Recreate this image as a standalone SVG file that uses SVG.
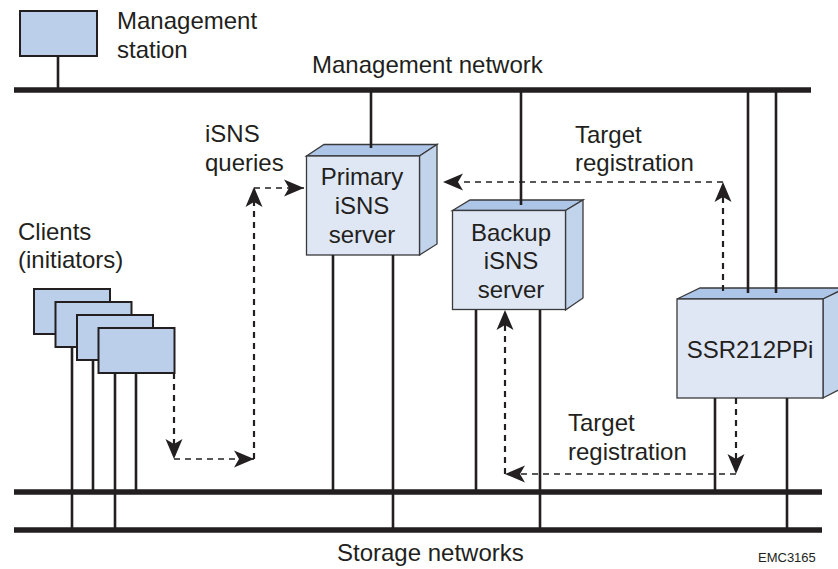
<svg xmlns="http://www.w3.org/2000/svg" width="838" height="569" viewBox="0 0 838 569">
<style>
text{font-family:"Liberation Sans",Arial,sans-serif;font-size:24px;fill:#231f20}
.m{text-anchor:middle}
.line{stroke:#231f20;stroke-width:2.6;fill:none}
.bus{stroke:#231f20;stroke-width:5.5;fill:none}
.dv{stroke:#231f20;stroke-width:2.2;fill:none;stroke-dasharray:6 5}
.dh{stroke:#231f20;stroke-width:1.6;fill:none;stroke-dasharray:6 5}
.pc{fill:#bbcfea;stroke:#231f20;stroke-width:2}
.front{fill:#dfe6f4;stroke:#3a3a3c;stroke-width:1.3}
.top{fill:#adc6e8;stroke:#3a3a3c;stroke-width:1.3}
.side{fill:#c2d3ec;stroke:#3a3a3c;stroke-width:1.3}
.head{fill:#231f20}
</style>
<defs>
<path id="ah" class="head" d="M0 0L-20 -8.500L-15 0L-20 8.500Z"/>
</defs>
<g id="management-station"><rect class="pc" x="20" y="11" width="77" height="45"/></g>
<g id="client-1"><rect class="pc" x="34" y="289" width="76" height="45"/></g>
<g id="client-2"><rect class="pc" x="55.500" y="302" width="76" height="45"/></g>
<g id="client-3"><rect class="pc" x="77" y="315" width="76" height="45"/></g>
<g id="client-4"><rect class="pc" x="98.500" y="328" width="76" height="45"/></g>
<g id="primary-server">
<path class="top" d="M306.500 156L324 144.500H437L419.500 156Z"/>
<path class="side" d="M419.500 156L437 144.500V244L419.500 255Z"/>
<rect class="front" x="306.500" y="156" width="113" height="99"/>
<text class="m" x="362" y="185">Primary</text>
<text class="m" x="362" y="214">iSNS</text>
<text class="m" x="362" y="243">server</text>
</g>
<g id="backup-server">
<path class="top" d="M452.500 210.500L470 200H583L565.500 210.500Z"/>
<path class="side" d="M565.500 210.500L583 200V298L565.500 310Z"/>
<rect class="front" x="452.500" y="210.500" width="113" height="99"/>
<text class="m" x="511" y="241">Backup</text>
<text class="m" x="511" y="269">iSNS</text>
<text class="m" x="511" y="298">server</text>
</g>
<g id="ssr">
<path class="top" d="M677 299L700 288H846L823 299Z"/>
<path class="side" d="M823 299L846 288V386L823 398Z"/>
<rect class="front" x="677" y="299" width="146" height="99"/>
<text class="m" x="750" y="358">SSR212PPi</text>
</g>
<g id="connectors">
<path class="line" d="M58 56V90M371 90V148M521 90V205M748 90V293M776 90V293"/>
<path class="line" d="M72 347V530M93 360V492M115 373V530M136 373V492"/>
<path class="line" d="M333 255V492M393 255V530M476 310V492M540 310V530M715 398V492M787 398V530"/>
<path class="bus" d="M14 90H811M14 492H822M14 530H822"/>
<path class="dv" d="M174 373V459M254 459V188M723 291V182M736 398V474M505 474V325"/>
<path class="dh" d="M174 459H254M254 188H304M723 182H460M736 474H505"/>
<use href="#ah" transform="translate(174 459) rotate(90)"/>
<use href="#ah" transform="translate(254 459)"/>
<use href="#ah" transform="translate(254 187) rotate(-90)"/>
<use href="#ah" transform="translate(304 188)"/>
<use href="#ah" transform="translate(443 182) rotate(180)"/>
<use href="#ah" transform="translate(723 182) rotate(-90)"/>
<use href="#ah" transform="translate(736 474) rotate(90)"/>
<use href="#ah" transform="translate(505 474) rotate(180)"/>
<use href="#ah" transform="translate(505 310) rotate(-90)"/>
</g>
<g id="labels">
<text x="117" y="29">Management</text>
<text x="117" y="58">station</text>
<text x="312" y="73">Management network</text>
<text x="205" y="142">iSNS</text>
<text x="205" y="171">queries</text>
<text x="575" y="143">Target</text>
<text x="575" y="171">registration</text>
<text x="18" y="240">Clients</text>
<text x="18" y="268">(initiators)</text>
<text x="568" y="431">Target</text>
<text x="568" y="460">registration</text>
<text x="337" y="561">Storage networks</text>
<text x="758" y="562" style="font-size:13px">EMC3165</text>
</g>
</svg>
